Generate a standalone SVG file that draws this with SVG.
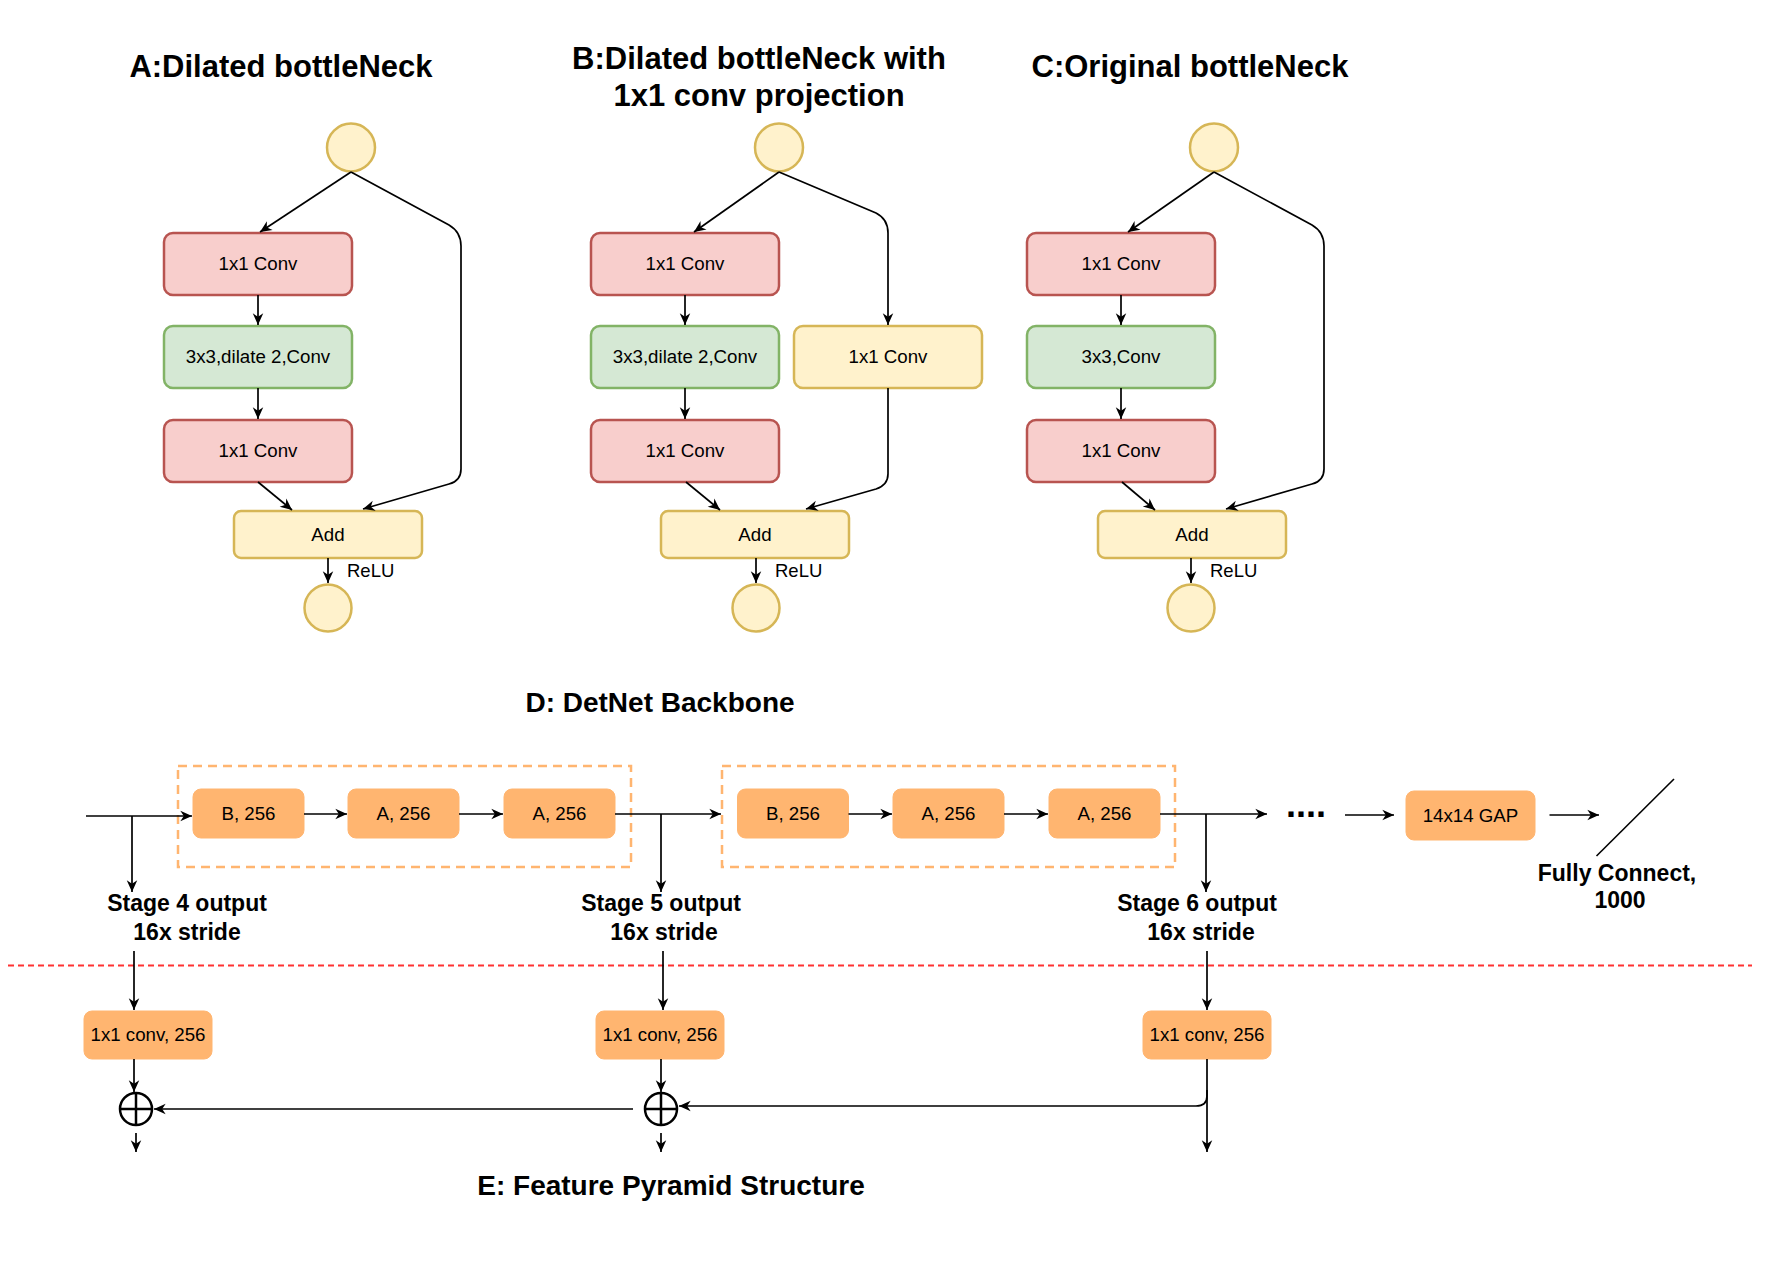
<svg xmlns="http://www.w3.org/2000/svg" width="1774" height="1288" viewBox="0 0 1774 1288">
<style>
text{font-family:"Liberation Sans",Arial,Helvetica,sans-serif;fill:#000}
.title{font-size:31px;font-weight:bold;text-anchor:middle}
.sec{font-size:28px;font-weight:bold;text-anchor:middle}
.lbl{font-size:23px;font-weight:bold;text-anchor:middle}
.t{font-size:18.7px;text-anchor:middle}
.relu{font-size:18.5px}
.red{fill:#f8cecc;stroke:#b85450;stroke-width:2.5}
.green{fill:#d5e8d4;stroke:#82b366;stroke-width:2.5}
.yel{fill:#fff2cc;stroke:#d6b656;stroke-width:2.5}
.org{fill:#ffb570;stroke:#ffb570;stroke-width:1}
.dash{fill:none;stroke:#ffb570;stroke-width:2.5;stroke-dasharray:9 6}
.c{fill:none;stroke:#000;stroke-width:1.6}
.ca{fill:none;stroke:#000;stroke-width:1.7;marker-end:url(#ah)}
.plus{fill:none;stroke:#000;stroke-width:2.5}
</style>
<defs>
<marker id="ah" viewBox="0 0 12 12" refX="11" refY="6" markerWidth="14" markerHeight="14" markerUnits="userSpaceOnUse" orient="auto">
<path d="M1,1.5 L11,6 L1,10.5 L4,6 Z" fill="#000"/>
</marker>
</defs>

<!-- titles -->
<g id="titleA"><text class="title" x="281" y="77">A:Dilated bottleNeck</text></g>
<g id="titleB"><text class="title" x="759" y="69">B:Dilated bottleNeck with</text><text class="title" x="759" y="106">1x1 conv projection</text></g>
<g id="titleC"><text class="title" x="1190" y="77">C:Original bottleNeck</text></g>
<g id="titleD"><text class="sec" x="660" y="712">D: DetNet Backbone</text></g>
<g id="titleE"><text class="sec" x="671" y="1195">E: Feature Pyramid Structure</text></g>

<!-- Panel A -->
<g id="A-in"><circle class="yel" cx="351" cy="147.5" r="24"/></g>
<g id="A-conv1"><rect class="red" x="164" y="233" width="188" height="62" rx="9"/><text class="t" x="258" y="270">1x1 Conv</text></g>
<g id="A-conv2"><rect class="green" x="164" y="326" width="188" height="62" rx="9"/><text class="t" x="258" y="363">3x3,dilate 2,Conv</text></g>
<g id="A-conv3"><rect class="red" x="164" y="420" width="188" height="62" rx="9"/><text class="t" x="258" y="457">1x1 Conv</text></g>
<g id="A-add"><rect class="yel" x="234" y="511" width="188" height="47" rx="7"/><text class="t" x="328" y="541">Add</text></g>
<g id="A-out"><circle class="yel" cx="328" cy="608" r="23.5"/></g>
<g id="A-relu"><text class="relu" x="347" y="577">ReLU</text></g>

<!-- Panel B -->
<g id="B-in"><circle class="yel" cx="779" cy="147.5" r="24"/></g>
<g id="B-conv1"><rect class="red" x="591" y="233" width="188" height="62" rx="9"/><text class="t" x="685" y="270">1x1 Conv</text></g>
<g id="B-conv2"><rect class="green" x="591" y="326" width="188" height="62" rx="9"/><text class="t" x="685" y="363">3x3,dilate 2,Conv</text></g>
<g id="B-conv3"><rect class="red" x="591" y="420" width="188" height="62" rx="9"/><text class="t" x="685" y="457">1x1 Conv</text></g>
<g id="B-proj"><rect class="yel" x="794" y="326" width="188" height="62" rx="9"/><text class="t" x="888" y="363">1x1 Conv</text></g>
<g id="B-add"><rect class="yel" x="661" y="511" width="188" height="47" rx="7"/><text class="t" x="755" y="541">Add</text></g>
<g id="B-out"><circle class="yel" cx="756" cy="608" r="23.5"/></g>
<g id="B-relu"><text class="relu" x="775" y="577">ReLU</text></g>

<!-- Panel C -->
<g id="C-in"><circle class="yel" cx="1214" cy="147.5" r="24"/></g>
<g id="C-conv1"><rect class="red" x="1027" y="233" width="188" height="62" rx="9"/><text class="t" x="1121" y="270">1x1 Conv</text></g>
<g id="C-conv2"><rect class="green" x="1027" y="326" width="188" height="62" rx="9"/><text class="t" x="1121" y="363">3x3,Conv</text></g>
<g id="C-conv3"><rect class="red" x="1027" y="420" width="188" height="62" rx="9"/><text class="t" x="1121" y="457">1x1 Conv</text></g>
<g id="C-add"><rect class="yel" x="1098" y="511" width="188" height="47" rx="7"/><text class="t" x="1192" y="541">Add</text></g>
<g id="C-out"><circle class="yel" cx="1191" cy="608" r="23.5"/></g>
<g id="C-relu"><text class="relu" x="1210" y="577">ReLU</text></g>

<!-- Backbone -->
<g id="stage5-group"><rect class="dash" x="178" y="766" width="453" height="101"/></g>
<g id="stage6-group"><rect class="dash" x="722" y="766" width="453" height="101"/></g>
<g id="s5-b"><rect class="org" x="193" y="789" width="111" height="49" rx="8"/><text class="t" x="248.5" y="820">B, 256</text></g>
<g id="s5-a1"><rect class="org" x="348" y="789" width="111" height="49" rx="8"/><text class="t" x="403.5" y="820">A, 256</text></g>
<g id="s5-a2"><rect class="org" x="504" y="789" width="111" height="49" rx="8"/><text class="t" x="559.5" y="820">A, 256</text></g>
<g id="s6-b"><rect class="org" x="737.5" y="789" width="111" height="49" rx="8"/><text class="t" x="793" y="820">B, 256</text></g>
<g id="s6-a1"><rect class="org" x="893" y="789" width="111" height="49" rx="8"/><text class="t" x="948.5" y="820">A, 256</text></g>
<g id="s6-a2"><rect class="org" x="1049" y="789" width="111" height="49" rx="8"/><text class="t" x="1104.5" y="820">A, 256</text></g>
<g id="dots"><text x="1286" y="817" style="font-size:36px;font-weight:bold">....</text></g>
<g id="gap"><rect class="org" x="1406" y="791" width="129" height="49" rx="8"/><text class="t" x="1470.5" y="822">14x14 GAP</text></g>
<g id="fc"><line x1="1596.5" y1="856" x2="1674" y2="779" class="c"/><text class="lbl" x="1617" y="881">Fully Connect,</text><text class="lbl" x="1620" y="908">1000</text></g>

<g id="stage4-label"><text class="lbl" x="187" y="911">Stage 4 output</text><text class="lbl" x="187" y="940">16x stride</text></g>
<g id="stage5-label"><text class="lbl" x="661" y="911">Stage 5 output</text><text class="lbl" x="664" y="940">16x stride</text></g>
<g id="stage6-label"><text class="lbl" x="1197" y="911">Stage 6 output</text><text class="lbl" x="1201" y="940">16x stride</text></g>

<g id="separator"><line x1="8" y1="965.5" x2="1752" y2="965.5" style="stroke:#ff3333;stroke-width:1.8;stroke-dasharray:6 4"/></g>

<!-- FPN -->
<g id="fpn-conv4"><rect class="org" x="84" y="1011" width="128" height="48" rx="8"/><text class="t" x="148" y="1041">1x1 conv, 256</text></g>
<g id="fpn-conv5"><rect class="org" x="596" y="1011" width="128" height="48" rx="8"/><text class="t" x="660" y="1041">1x1 conv, 256</text></g>
<g id="fpn-conv6"><rect class="org" x="1143" y="1011" width="128" height="48" rx="8"/><text class="t" x="1207" y="1041">1x1 conv, 256</text></g>
<g id="sum4"><circle class="plus" cx="136" cy="1109" r="16"/><line class="plus" x1="120" y1="1109" x2="152" y2="1109"/><line class="plus" x1="136" y1="1093" x2="136" y2="1125"/></g>
<g id="sum5"><circle class="plus" cx="661" cy="1109" r="16"/><line class="plus" x1="645" y1="1109" x2="677" y2="1109"/><line class="plus" x1="661" y1="1093" x2="661" y2="1125"/></g>

<!-- connectors -->
<g id="connectors">
<!-- A -->
<line class="ca" x1="351" y1="172" x2="260" y2="232"/>
<path class="ca" d="M351,172 L449,225 Q461,232 461,246 L461,469 Q461,481 449,484 L363,509"/>
<line class="ca" x1="258" y1="295" x2="258" y2="325"/>
<line class="ca" x1="258" y1="388" x2="258" y2="419"/>
<line class="ca" x1="258" y1="482" x2="292" y2="510"/>
<line class="ca" x1="328" y1="558" x2="328" y2="583"/>
<!-- B -->
<line class="ca" x1="779" y1="172" x2="694" y2="232"/>
<path class="ca" d="M779,172 L876,213 Q888,219 888,233 L888,325"/>
<path class="ca" d="M888,388 L888,474 Q888,485 876,489 L806,509"/>
<line class="ca" x1="685" y1="295" x2="685" y2="325"/>
<line class="ca" x1="685" y1="388" x2="685" y2="419"/>
<line class="ca" x1="686" y1="482" x2="720" y2="510"/>
<line class="ca" x1="756" y1="558" x2="756" y2="583"/>
<!-- C -->
<line class="ca" x1="1214" y1="172" x2="1128" y2="232"/>
<path class="ca" d="M1214,172 L1312,225 Q1324,232 1324,246 L1324,469 Q1324,481 1312,484 L1226,509"/>
<line class="ca" x1="1121" y1="295" x2="1121" y2="325"/>
<line class="ca" x1="1121" y1="388" x2="1121" y2="419"/>
<line class="ca" x1="1122" y1="482" x2="1155" y2="510"/>
<line class="ca" x1="1191" y1="558" x2="1191" y2="583"/>
<!-- backbone -->
<line class="ca" x1="86" y1="816" x2="192" y2="816"/>
<line class="ca" x1="132" y1="816" x2="132" y2="892"/>
<line class="ca" x1="304" y1="814" x2="347" y2="814"/>
<line class="ca" x1="459" y1="814" x2="503" y2="814"/>
<line class="ca" x1="615" y1="814" x2="721" y2="814"/>
<line class="ca" x1="661" y1="814" x2="661" y2="892"/>
<line class="ca" x1="848.5" y1="814" x2="892" y2="814"/>
<line class="ca" x1="1004" y1="814" x2="1048" y2="814"/>
<line class="ca" x1="1160" y1="814" x2="1267" y2="814"/>
<line class="ca" x1="1206" y1="814" x2="1206" y2="892"/>
<line class="ca" x1="1345" y1="815" x2="1394" y2="815"/>
<line class="ca" x1="1549.5" y1="815" x2="1599" y2="815"/>
<!-- fpn -->
<line class="ca" x1="134" y1="951" x2="134" y2="1010"/>
<line class="ca" x1="663" y1="951" x2="663" y2="1010"/>
<line class="ca" x1="1207" y1="951" x2="1207" y2="1010"/>
<line class="ca" x1="134" y1="1059" x2="134" y2="1092"/>
<line class="ca" x1="661" y1="1059" x2="661" y2="1092"/>
<line class="ca" x1="633" y1="1109" x2="154" y2="1109"/>
<path class="ca" d="M1207,1059 L1207,1096 Q1207,1106 1196,1106 L679,1106"/>
<line class="ca" x1="1207" y1="1090" x2="1207" y2="1152"/>
<line class="ca" x1="136" y1="1133" x2="136" y2="1152"/>
<line class="ca" x1="661" y1="1133" x2="661" y2="1152"/>
</g>
</svg>
